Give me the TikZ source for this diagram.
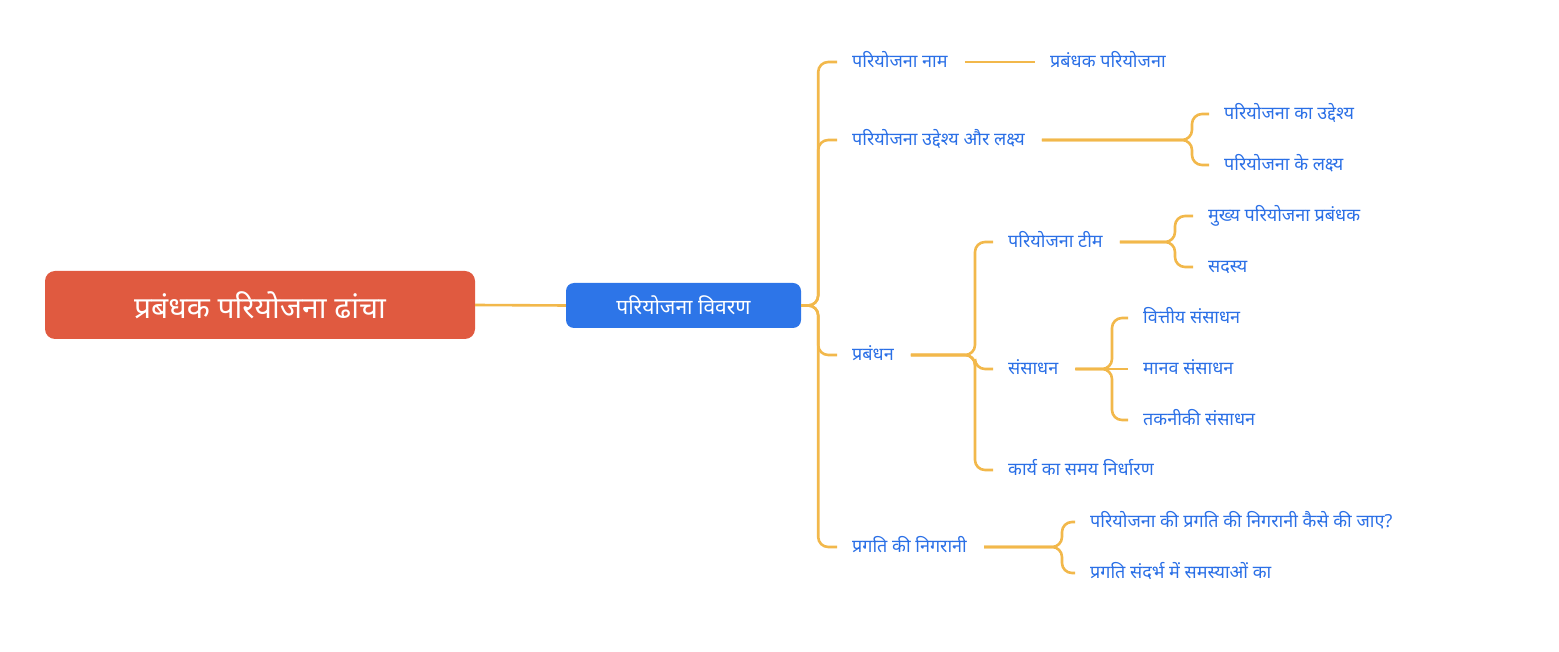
\documentclass[tikz,border=0pt]{standalone}
\usepackage{fontspec}
\newfontfamily\deva[Script=Devanagari]{Noto Sans}
\usetikzlibrary{positioning}
\definecolor{rootred}{HTML}{E05A40}
\definecolor{topicblue}{HTML}{2D75E8}
\definecolor{leafblue}{HTML}{2A6FE6}
\definecolor{linkorange}{HTML}{F2B84B}
\tikzset{
  rootbox/.style={fill=rootred, text=white, rounded corners=10pt,
    minimum width=430pt, minimum height=68pt, font=\deva\fontsize{30}{34}\selectfont},
  topicbox/.style={fill=topicblue, text=white, rounded corners=8pt,
    minimum width=235pt, minimum height=45pt, font=\deva\fontsize{21}{25}\selectfont},
  leaf/.style={text=leafblue, anchor=west, inner xsep=8pt, inner ysep=0pt,
    text height=13pt, text depth=1pt, font=\deva\fontsize{18}{22}\selectfont},
  link/.style={draw=linkorange, line width=2.6pt, rounded corners=10pt},
  sublink/.style={link, shorten <=9pt, shorten >=7pt}
}
\begin{document}
\begin{tikzpicture}[x=1pt, y=1pt]
\useasboundingbox (0,0) rectangle (1559,651);

% root and central topic
\node[rootbox] (plan) at (260,346) {प्रबंधक परियोजना ढांचा};
\node[topicbox] (detail) at (683.5,345.5) {परियोजना विवरण};
\draw[link] (plan.east) -- (detail.west);

% first level
\node[leaf] (name) at (844,589) {परियोजना नाम};
\node[leaf] (goal) at (844,511) {परियोजना उद्देश्य और लक्ष्य};
\node[leaf] (mgmt) at (844,296) {प्रबंधन};
\node[leaf] (watch) at (844,104) {प्रगति की निगरानी};
\foreach \n in {name,goal,mgmt,watch}
  \draw[link, shorten >=7pt] (detail.east) -- ++(17,0) |- (\n.west);

% project name
\node[leaf] (nameval) at (1042,589) {प्रबंधक परियोजना};
\draw[sublink] (name.east) -- (nameval.west);

% goals
\coordinate (goalj) at (1192,511);
\node[leaf] (goalaim) at (1216,537) {परियोजना का उद्देश्य};
\node[leaf] (goaltarget) at (1216,486) {परियोजना के लक्ष्य};
\foreach \n in {goalaim,goaltarget}
  \draw[sublink] (goal.east) -- (goalj) |- (\n.west);

% management
\coordinate (mgmtj) at (975,296);
\node[leaf] (team) at (1000,409) {परियोजना टीम};
\node[leaf] (res) at (1000,282) {संसाधन};
\node[leaf] (sched) at (1000,181) {कार्य का समय निर्धारण};
\foreach \n in {team,res,sched}
  \draw[sublink] (mgmt.east) -- (mgmtj) |- (\n.west);

% team
\coordinate (teamj) at (1175,409);
\node[leaf] (chief) at (1200,435) {मुख्य परियोजना प्रबंधक};
\node[leaf] (member) at (1200,384) {सदस्य};
\foreach \n in {chief,member}
  \draw[sublink] (team.east) -- (teamj) |- (\n.west);

% resources
\coordinate (resj) at (1112,282);
\node[leaf] (fin) at (1135,333) {वित्तीय संसाधन};
\node[leaf] (human) at (1135,282) {मानव संसाधन};
\node[leaf] (tech) at (1135,231) {तकनीकी संसाधन};
\foreach \n in {fin,tech}
  \draw[sublink] (res.east) -- (resj) |- (\n.west);
\draw[sublink] (res.east) -- (human.west);

% progress
\coordinate (watchj) at (1062,104);
\node[leaf] (how) at (1082,129) {परियोजना की प्रगति की निगरानी कैसे की जाए?};
\node[leaf] (issues) at (1082,78) {प्रगति संदर्भ में समस्याओं का};
\foreach \n in {how,issues}
  \draw[sublink] (watch.east) -- (watchj) |- (\n.west);
\end{tikzpicture}
\end{document}
